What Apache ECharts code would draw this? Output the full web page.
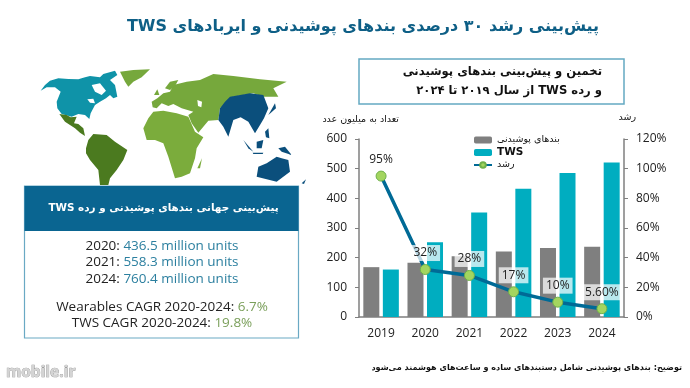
<!DOCTYPE html>
<html lang="fa">
<head>
<meta charset="utf-8">
<style>html,body{margin:0;padding:0;background:#fff}#c{width:690px;height:388px}</style>
<script src="https://cdn.jsdelivr.net/npm/echarts@6/dist/echarts.min.js"></script>
</head>
<body>
<div id="c"></div>
<script>
const categories = ['2019','2020','2021','2022','2023','2024'];
const wearables = [168,183,205,221,233,237];
const tws = [160,252,352,432,485,521];
const growth = [95,32,28,17,10,5.6];
const growthLabels = ['95%','32%','28%','17%','10%','5.60%'];
const nameWearables = 'بندهای پوشیدنی';
const nameTws = 'TWS';
const nameGrowth = 'رشد';
const titleText = 'پیش‌بینی رشد ۳۰ درصدی بندهای پوشیدنی و ایربادهای TWS';
const boxLine1 = 'تخمین و پیش‌بینی بندهای پوشیدنی';
const boxLine2 = 'و رده TWS از سال ۲۰۱۹ تا ۲۰۲۴';
const panelHead = 'پیش‌بینی جهانی بندهای پوشیدنی و رده TWS';
const axisLeftName = 'تعداد به میلیون عدد';
const footnote = 'توضیح: بندهای پوشیدنی شامل دستبندهای ساده و ساعت‌های هوشمند می‌شود';
const panelLines = [['2020:','436.5 million units'],['2021:','558.3 million units'],['2024:','760.4 million units']];
const cagrLines = [['Wearables CAGR 2020-2024:','6.7%'],['TWS CAGR 2020-2024:','19.8%']];

const rtl = s => '\u202B' + s + '\u202C';
const FA = '"DejaVu Sans", sans-serif';
const LAT = '"Open Sans", sans-serif';

// decorative world map, outlines in zoomed reference units (3x)
const TEAL='#0f93a8', LG='#76a83c', AF='#7bac3c', DG='#4b7a1f', NAVY='#0b4f7c', W='#ffffff';
const mapShapes = [
 [TEAL,[[122,272],[135,255],[150,242],[175,235],[205,237],[235,238],[255,232],[270,228],[300,232],[310,222],[345,212],[352,225],[330,240],[345,255],[352,290],[340,295],[330,285],[318,295],[300,305],[285,315],[272,340],[268,357],[255,345],[235,342],[215,350],[185,342],[172,325],[170,305],[182,275],[165,262],[140,262]]],
 [W,[[275,255],[300,250],[318,272],[305,285],[285,275]]],
 [W,[[262,298],[280,296],[285,310],[270,308]]],
 [LG,[[360,215],[400,210],[450,208],[425,232],[400,245],[385,260],[375,245]]],
 [DG,[[178,342],[200,345],[212,352],[230,350],[222,370],[235,372],[250,385],[255,408],[240,398],[225,385],[195,365]]],
 [DG,[[258,445],[265,420],[280,402],[320,405],[345,425],[382,450],[370,480],[350,510],[330,535],[325,555],[300,555],[295,510],[270,480],[258,460]]],
 [AF,[[430,385],[445,355],[460,335],[490,332],[530,340],[565,350],[585,395],[610,412],[590,445],[585,475],[570,520],[545,530],[525,535],[505,470],[490,430],[465,420],[440,420]]],
 [AF,[[592,505],[606,475],[600,505]]],
 [LG,[[458,322],[455,305],[472,295],[490,280],[510,275],[520,255],[560,245],[600,240],[640,222],[700,228],[780,238],[860,245],[820,265],[835,290],[790,290],[760,280],[700,290],[660,325],[655,360],[625,362],[595,398],[575,370],[565,345],[580,335],[545,325],[520,312],[505,318],[485,310],[470,325]]],
 [LG,[[495,265],[510,245],[535,240],[525,258],[510,270]]],
 [LG,[[462,285],[472,268],[478,285]]],
 [W,[[592,300],[606,305],[604,322],[594,318]]],
 [NAVY,[[660,325],[675,305],[690,290],[720,285],[750,280],[790,285],[805,325],[792,355],[780,375],[765,400],[745,365],[722,352],[700,360],[685,410],[670,380],[655,360]]],
 [NAVY,[[805,345],[825,310],[828,325]]],
 [NAVY,[[730,420],[760,455],[745,445]]],
 [NAVY,[[758,458],[790,458],[788,462],[760,462]]],
 [NAVY,[[770,425],[790,420],[785,445],[770,445]]],
 [NAVY,[[795,395],[805,385],[808,415],[798,412]]],
 [NAVY,[[770,530],[775,500],[800,490],[830,470],[845,475],[865,480],[870,515],[850,530],[830,545]]],
 [NAVY,[[835,445],[855,440],[875,465],[845,455]]],
 [NAVY,[[905,550],[918,538],[912,552]]]
];

const graphics = [];
mapShapes.forEach(s => graphics.push({type:'polygon',silent:true,z:1,
  shape:{points:s[1].map(p=>[p[0]/3,p[1]/3])},style:{fill:s[0]}}));

const txt = (text,x,y,align,font,color,extra) => graphics.push({type:'text',z:5,silent:true,
  style:Object.assign({text,x,y,align,verticalAlign:'middle',font,fill:color},extra||{})});

txt(rtl(titleText),363,27,'center','bold 16px '+FA,'#0e5f86');

// chart title box
graphics.push({type:'rect',z:2,silent:true,shape:{x:359,y:59,width:265,height:45},style:{fill:'#fff',stroke:'#64a9c2',lineWidth:1.5}});
txt(rtl(boxLine1),602,72,'right','bold 11.6px '+FA,'#111');
txt(rtl(boxLine2),602,91,'right','bold 11.6px '+FA,'#111');

// left panel
graphics.push({type:'rect',z:2,silent:true,shape:{x:24.5,y:186,width:274,height:152},style:{fill:'#fff',stroke:'#6aa9c4',lineWidth:1.2}});
graphics.push({type:'rect',z:3,silent:true,shape:{x:24.5,y:186,width:274,height:45},style:{fill:'#0a6591'}});
txt(rtl(panelHead),163.5,208,'center','bold 10.4px '+FA,'#fff');

const PF = '13.5px '+LAT;
const richPanel = { k:{fill:'#222',font:PF}, v:{fill:'#2b7f9f',font:PF}, g:{fill:'#7a9f5a',font:PF} };
panelLines.forEach((l,i)=>txt('{k|'+l[0]+'} {v|'+l[1]+'}',162,246+i*16.5,'center',PF,'#222',{rich:richPanel}));
cagrLines.forEach((l,i)=>txt('{k|'+l[0]+'} {g|'+l[1]+'}',162,307+i*16.5,'center',PF,'#222',{rich:richPanel}));

// axis captions and footnote
txt(rtl(axisLeftName),399,120,'right','9.5px '+FA,'#111');
txt(rtl(nameGrowth),636,118,'right','9.5px '+FA,'#111');
txt(rtl(footnote),682,368,'right','bold 8.1px '+FA,'#111');

// watermark
txt('mobile.ir',6,373,'left','bold 15.5px '+LAT,'#d4d4d4',{stroke:'#8f8f8f',lineWidth:0.7});

const chart = echarts.init(document.getElementById('c'));
const axisLine = {show:true,lineStyle:{color:'#7f7f7f',width:1.5}};
chart.setOption({
  animation:false,
  textStyle:{fontFamily:LAT},
  grid:{left:359,right:66,top:139,bottom:71},
  legend:{
    orient:'vertical',left:468,top:130,itemWidth:18,itemHeight:7,itemGap:2,
    textStyle:{fontFamily:FA,fontSize:9.5,color:'#111'},
    data:[{name:nameWearables},{name:nameTws,textStyle:{fontWeight:'bold',fontSize:10.5}},{name:nameGrowth}]
  },
  xAxis:{type:'category',data:categories,
    axisLine,axisTick:{show:false},
    axisLabel:{fontSize:12,color:'#222',margin:11,fontFamily:LAT}},
  yAxis:[
    {type:'value',min:0,max:600,interval:100,splitLine:{show:false},axisLine,
     axisTick:{show:true,length:4,lineStyle:{color:'#7f7f7f'}},
     axisLabel:{fontSize:12,color:'#222',margin:12,fontFamily:LAT}},
    {type:'value',min:0,max:120,interval:20,position:'right',splitLine:{show:false},axisLine,
     axisTick:{show:true,length:4,lineStyle:{color:'#7f7f7f'}},
     axisLabel:{fontSize:12,color:'#222',margin:12,fontFamily:LAT,formatter:'{value}%'}}
  ],
  series:[
    {name:nameWearables,type:'bar',data:wearables,barWidth:16,barGap:'22%',itemStyle:{color:'#7f7f7f'}},
    {name:nameTws,type:'bar',data:tws,barWidth:16,itemStyle:{color:'#00adc0'}},
    {name:nameGrowth,type:'line',yAxisIndex:1,data:growth,z:5,
     symbol:'circle',symbolSize:10,
     lineStyle:{color:'#006a96',width:3.5},
     itemStyle:{color:'#a3d55f',borderColor:'#6fb04a',borderWidth:1},
     label:{show:true,position:'top',distance:3,fontSize:12,color:'#222',fontFamily:LAT,
       backgroundColor:'rgba(255,255,255,0.72)',padding:[2,3],
       formatter:p=>growthLabels[p.dataIndex]}}
  ],
  graphic:graphics
});
</script>
</body>
</html>
